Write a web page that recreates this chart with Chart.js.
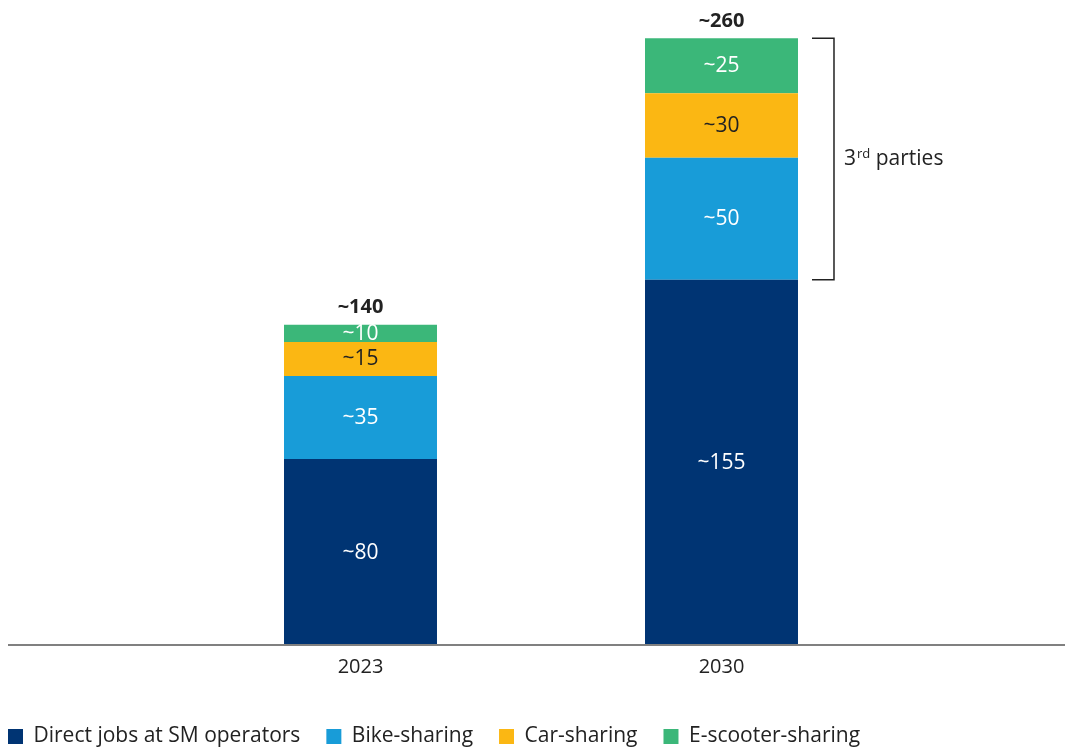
<!DOCTYPE html>
<html>
<head>
<meta charset="utf-8">
<script src="https://cdn.jsdelivr.net/npm/chart.js@4.4.1/dist/chart.umd.min.js"></script>
<style>
html,body{margin:0;padding:0;background:#fff;}
#wrap{width:1065px;height:750px;position:relative;}
</style>
</head>
<body>
<div id="wrap"><canvas id="c"></canvas></div>
<script>
const categories = ['2023', '2030'];
const directJobs = [79.7, 156.5];
const bikeSharing = [35.6, 52.3];
const carSharing = [14.6, 27.7];
const eScooterSharing = [7.4, 23.5];
const directLabels = ['~80', '~155'];
const bikeLabels = ['~35', '~50'];
const carLabels = ['~15', '~30'];
const eScooterLabels = ['~10', '~25'];
const totalLabels = ['~140', '~260'];
const seriesNames = ['Direct jobs at SM operators', 'Bike-sharing', 'Car-sharing', 'E-scooter-sharing'];
const bracketText = ['3', 'rd', ' parties'];

const FONT = "'Open Sans', 'Noto Sans', sans-serif";
const colors = ['#003473', '#189CD8', '#FBB713', '#3BB779'];
const labelColors = ['#ffffff', '#ffffff', '#222222', '#ffffff'];
const segLabels = [directLabels, bikeLabels, carLabels, eScooterLabels];

const labelPlugin = {
  id: 'labels',
  afterDatasetsDraw(chart) {
    const ctx = chart.ctx;
    ctx.save();
    ctx.textAlign = 'center';
    ctx.textBaseline = 'middle';
    chart.data.datasets.forEach((ds, di) => {
      const meta = chart.getDatasetMeta(di);
      meta.data.forEach((el, i) => {
        ctx.fillStyle = labelColors[di];
        ctx.font = '21px ' + FONT;
        ctx.fillText(segLabels[di][i], el.x, (el.y + el.base) / 2 + 0.5);
      });
    });
    const topMeta = chart.getDatasetMeta(chart.data.datasets.length - 1);
    topMeta.data.forEach((el, i) => {
      ctx.fillStyle = '#222222';
      ctx.font = 'bold 20px ' + FONT;
      ctx.fillText(totalLabels[i], el.x, el.y - 17);
    });
    // baseline
    const y0 = chart.scales.y.getPixelForValue(0);
    ctx.strokeStyle = '#808080';
    ctx.lineWidth = 2;
    ctx.beginPath();
    ctx.moveTo(8, y0);
    ctx.lineTo(chart.width, y0);
    ctx.stroke();
    // bracket on 2030
    const bikeEl = chart.getDatasetMeta(1).data[1];
    const topEl = topMeta.data[1];
    const xr = topEl.x + topEl.width / 2;
    const bx0 = xr + 14, bx1 = xr + 36;
    const yt = topEl.y, yb = bikeEl.base;
    ctx.strokeStyle = '#222222';
    ctx.lineWidth = 1.5;
    ctx.beginPath();
    ctx.moveTo(bx0, yt);
    ctx.lineTo(bx1, yt);
    ctx.lineTo(bx1, yb);
    ctx.lineTo(bx0, yb);
    ctx.stroke();
    const ym = (yt + yb) / 2;
    ctx.textAlign = 'left';
    ctx.fillStyle = '#222222';
    let tx = bx1 + 10;
    ctx.font = '21px ' + FONT;
    ctx.fillText(bracketText[0], tx, ym);
    tx += ctx.measureText(bracketText[0]).width + 1;
    ctx.font = '13px ' + FONT;
    ctx.fillText(bracketText[1], tx, ym - 5);
    tx += ctx.measureText(bracketText[1]).width;
    ctx.font = '21px ' + FONT;
    ctx.fillText(bracketText[2], tx, ym);
    ctx.restore();
  }
};

const dsValues = [directJobs, bikeSharing, carSharing, eScooterSharing];
new Chart(document.getElementById('c'), {
  type: 'bar',
  data: {
    labels: categories,
    datasets: dsValues.map((v, i) => ({
      label: seriesNames[i],
      data: v,
      backgroundColor: colors[i],
      borderWidth: 0,
      categoryPercentage: 1,
      barPercentage: 0.4238
    }))
  },
  options: {
    responsive: true,
    maintainAspectRatio: false,
    animation: false,
    layout: { padding: { top: 15, left: -18, right: 0, bottom: -7 } },
    plugins: {
      legend: {
        display: true,
        position: 'bottom',
        align: 'start',
        labels: {
          boxWidth: 15,
          boxHeight: 15,
          padding: 26,
          color: '#222222',
          font: { family: FONT, size: 21 }
        }
      },
      tooltip: { enabled: false }
    },
    scales: {
      x: {
        stacked: true,
        grid: { display: false, drawTicks: false },
        border: { display: false },
        ticks: { color: '#222222', font: { family: FONT, size: 20 }, padding: 10 },
        afterFit: s => { s.height = 55; }
      },
      y: {
        stacked: true,
        min: 0,
        max: 270,
        display: true,
        grid: { display: false },
        border: { display: false },
        ticks: { display: false },
        afterFit: s => { s.width = 198; }
      },
      y2: {
        position: 'right',
        min: 0,
        max: 1,
        display: true,
        grid: { display: false },
        border: { display: false },
        ticks: { display: false },
        afterFit: s => { s.width = 163; }
      }
    }
  },
  plugins: [labelPlugin]
});
</script>
</body>
</html>
